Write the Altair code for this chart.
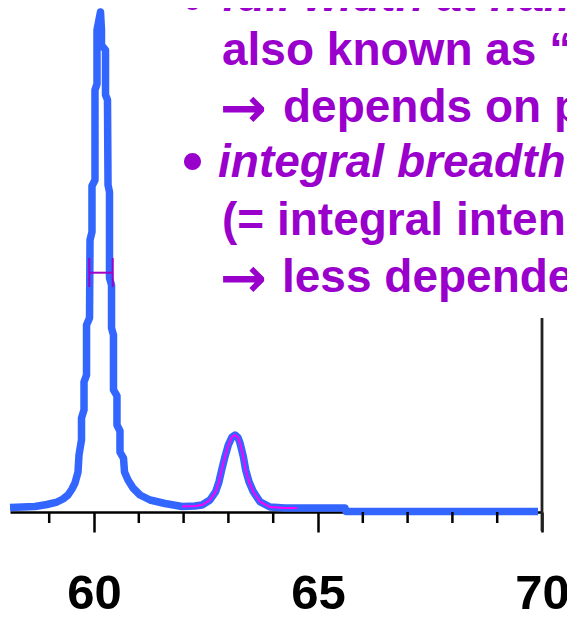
import altair as alt
import pandas as pd

# ---- data (2-theta in degrees, intensity in % of panel height) ----
meas_x = [58.125, 58.683, 58.951, 59.174, 59.308, 59.420, 59.509, 59.576, 59.643, 59.665,
          59.721, 59.721, 59.777, 59.777, 59.833, 59.833, 59.900, 59.911, 59.955, 59.955,
          60.022, 60.022, 60.067, 60.067, 60.145, 60.167, 60.167, 60.257, 60.257, 60.301,
          60.313, 60.346, 60.346, 60.391, 60.391, 60.435, 60.435, 60.513, 60.513, 60.580,
          60.580, 60.658, 60.681, 60.759, 60.871, 61.027, 61.250, 61.585, 61.964, 62.254,
          62.411, 62.589, 62.716, 62.790, 62.850, 62.924, 62.998, 63.080, 63.147, 63.214,
          63.259, 63.333, 63.386, 63.460, 63.556, 63.705, 63.929, 64.263, 64.531, 65.603,
          65.625, 69.911]
meas_y = [0.89, 1.09, 1.49, 1.98, 2.58, 3.37, 4.56, 5.75, 7.94, 11.31,
          14.29, 18.65, 20.24, 25.79, 27.18, 37.10, 38.49, 53.97, 55.56, 64.68,
          65.87, 83.73, 84.92, 95.63, 99.21, 95.63, 92.66, 91.67, 82.74, 81.75,
          64.88, 63.49, 46.43, 45.04, 36.51, 35.12, 24.21, 23.02, 17.26, 16.07,
          11.90, 10.71, 7.94, 6.35, 4.76, 3.37, 2.38, 1.69, 1.09, 1.19,
          1.39, 2.38, 4.03, 6.01, 8.33, 10.97, 13.29, 14.88, 15.28, 14.78,
          13.69, 10.97, 8.33, 6.01, 4.03, 2.04, 0.99, 0.79, 0.79, 0.79,
          0.10, 0.10]

fit_x = [61.964, 62.254, 62.411, 62.589, 62.716, 62.790, 62.850, 62.924, 62.998, 63.080,
         63.147, 63.214, 63.259, 63.333, 63.386, 63.460, 63.556, 63.705, 63.929, 64.263,
         64.531]
fit_y = [1.09, 1.19, 1.39, 2.38, 4.03, 6.01, 8.33, 10.97, 13.29, 14.88,
         15.28, 14.78, 13.69, 10.97, 8.33, 6.01, 4.03, 2.04, 0.99, 0.79,
         0.79]

fwhm_x = [59.895, 60.417]
fwhm_level = [47.48]
fwhm_cap = [44.64, 50.40]

major_ticks = [60, 65, 70]
minor_ticks = [59, 61, 62, 63, 64, 66, 67, 68, 69]
x_domain = [58.125, 70]
y_domain = [0, 100]

bullet = "\u2022"
arrow = "\u2192"
text_lines = [
    "full width at half maximum (FWHM)",
    "also known as \u201chalf width\u201d",
    "depends on peak shape",
    "integral breadth \u03b2",
    "(= integral intensity / peak height)",
    "less dependent on peak shape",
]

# ---- chart ----
BLUE = "#3366ff"
MAGENTA = "#ff00ff"
PURPLE = "#9900cc"
FONT = "Liberation Sans"

xs = alt.Scale(domain=x_domain, nice=False, zero=False)
ys = alt.Scale(domain=y_domain, nice=False, zero=False)
xaxis = alt.Axis(values=major_ticks, tickSize=20, tickWidth=2.5, tickColor="black",
                 domainColor="black", domainWidth=2.5, grid=False, title=None,
                 labelFont=FONT, labelFontSize=49, labelFontWeight="bold",
                 labelColor="black", labelPadding=76, labelBaseline="alphabetic",
                 labelFlush=False, labelOverlap=False, format="d")

meas = pd.DataFrame({"x": meas_x, "y": meas_y, "i": list(range(len(meas_x)))})
fit = pd.DataFrame({"x": fit_x, "y": fit_y, "i": list(range(len(fit_x)))})

blue = alt.Chart(meas).mark_line(color=BLUE, strokeWidth=7.5, strokeJoin="round").encode(
    x=alt.X("x:Q", scale=xs, axis=xaxis),
    y=alt.Y("y:Q", scale=ys, axis=None),
    order=alt.Order("i:Q"),
)

minor = alt.Chart(pd.DataFrame({"x": minor_ticks})).mark_rule(color="black", strokeWidth=2.5).encode(
    x=alt.X("x:Q", scale=xs, axis=xaxis),
    y=alt.value(504), y2=alt.value(515),
)

right_line = alt.Chart(pd.DataFrame({"x": [major_ticks[-1]]})).mark_rule(color="#222222", strokeWidth=2.8).encode(
    x=alt.X("x:Q", scale=xs, axis=xaxis),
    y=alt.value(310), y2=alt.value(523),
)

magenta = alt.Chart(fit).mark_line(color=MAGENTA, strokeWidth=2).encode(
    x=alt.X("x:Q", scale=xs, axis=xaxis),
    y=alt.Y("y:Q", scale=ys, axis=None),
    order=alt.Order("i:Q"),
)

fw_bar = alt.Chart(pd.DataFrame({"x1": [fwhm_x[0]], "x2": [fwhm_x[1]], "y": fwhm_level})).mark_rule(
    color="#a000c8", strokeWidth=2).encode(
    x=alt.X("x1:Q", scale=xs, axis=xaxis), x2="x2:Q",
    y=alt.Y("y:Q", scale=ys, axis=None),
)
fw_caps = alt.Chart(pd.DataFrame({"x": fwhm_x, "y1": [fwhm_cap[0]] * 2, "y2": [fwhm_cap[1]] * 2})).mark_rule(
    color="#a000c8", strokeWidth=2).encode(
    x=alt.X("x:Q", scale=xs, axis=xaxis),
    y=alt.Y("y1:Q", scale=ys, axis=None), y2="y2:Q",
)


def text_layer(s, x, y, italic=False, size=46, baseline="alphabetic", font=FONT):
    kw = dict(align="left", baseline=baseline, font=font, fontSize=size,
              fontWeight="bold", color=PURPLE)
    if italic:
        kw["fontStyle"] = "italic"
    return alt.Chart(pd.DataFrame({"t": [s]})).mark_text(**kw).encode(
        text="t:N", x=alt.value(x), y=alt.value(y))


texts = [
    text_layer(bullet, 172, -5, size=60, baseline="middle"),
    text_layer(text_lines[0], 212, 3, italic=True),
    text_layer(text_lines[1], 212, 57),
    text_layer(arrow, 210, 102, size=56, baseline="middle", font="DejaVu Sans"),
    text_layer(text_lines[2], 273, 114),
    text_layer(bullet, 172, 155, size=60, baseline="middle"),
    text_layer(text_lines[3], 208, 169, italic=True),
    text_layer(text_lines[4], 212, 227),
    text_layer(arrow, 210, 272, size=56, baseline="middle", font="DejaVu Sans"),
    text_layer(text_lines[5], 272, 284),
]

chart = alt.layer(blue, minor, right_line, magenta, fw_bar, fw_caps, *texts).properties(
    width=532, height=504,
    autosize=alt.AutoSizeParams(type="none"),
    padding={"left": 2, "top": 0, "right": 25, "bottom": 108},
    background="white",
).configure_view(stroke=None)

chart.save("out.html", embed_options={"renderer": "svg", "actions": False})
